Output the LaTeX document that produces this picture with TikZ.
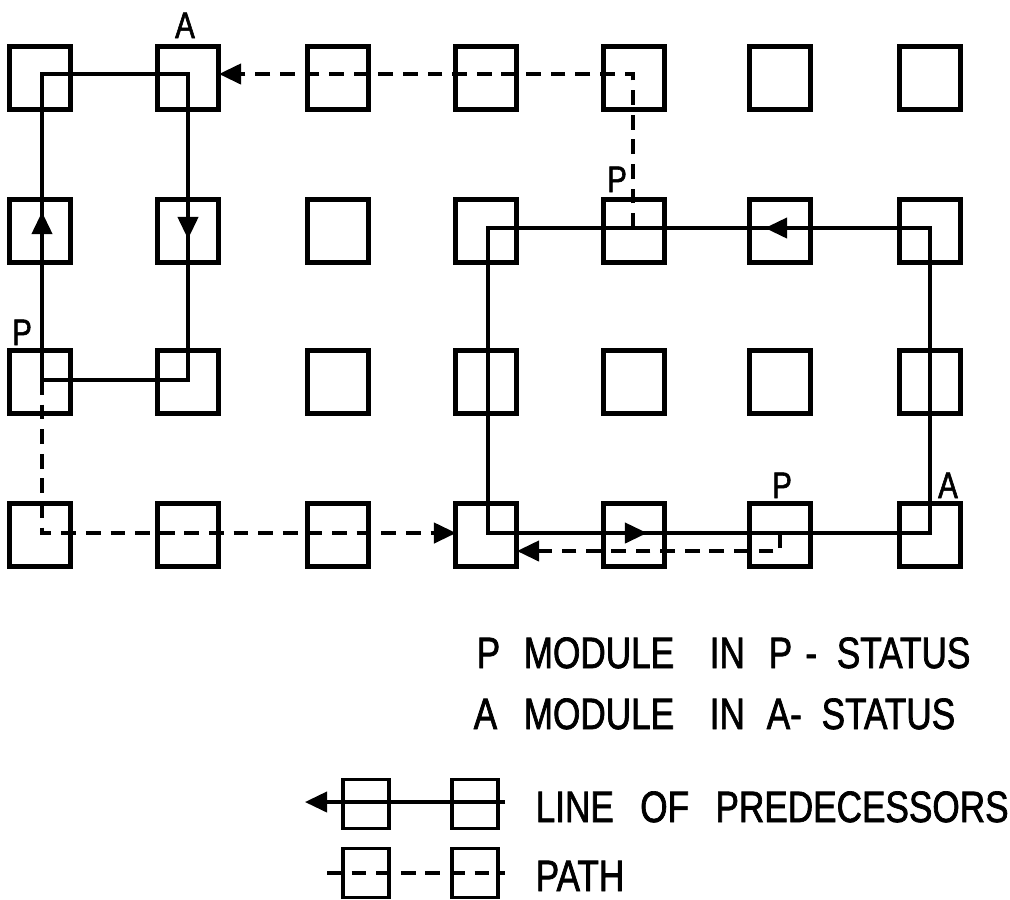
\documentclass[tikz,border=0pt]{standalone}
\usepackage{fontspec}
\newfontfamily\lettering[FakeStretch=0.8,FakeBold=1.6]{Liberation Sans}
\usetikzlibrary{arrows.meta}
\begin{document}
\begin{tikzpicture}[x=0.01cm,y=-0.01cm,
  module/.style={draw, line width=1.2pt, minimum width=0.61cm, minimum height=0.63cm, inner sep=0pt},
  smallmod/.style={draw, line width=1.1pt, minimum width=0.46cm, minimum height=0.49cm, inner sep=0pt},
  pred/.style={line width=0.9pt},
  pathline/.style={line width=0.95pt, dash pattern=on 4.2pt off 2.8pt},
  tip/.style={-{Triangle[length=6.3pt,width=5.8pt]}},
  lbl/.style={font=\lettering\fontsize{10.5}{12}\selectfont, inner sep=0pt, anchor=base},
  leg/.style={font=\lettering\fontsize{12.5}{15}\selectfont, inner sep=0pt, anchor=base west}]
\useasboundingbox (0,0) rectangle (1010,899);

% grid of modules
\foreach \c/\x in {1/40,2/188,3/338,4/486,5/634,6/780,7/930}
  \foreach \r/\y in {1/78,2/231,3/382,4/535}
    \node[module] (b\c\r) at (\x,\y) {};

% corner coordinates
\coordinate (p13) at (42,380);
\coordinate (p11) at (42,74);
\coordinate (p21) at (188,74);
\coordinate (p23) at (188,380);
\coordinate (q72) at (930,228);
\coordinate (q42) at (488,228);
\coordinate (q44) at (488,533);
\coordinate (q74) at (930,533);
\coordinate (q52) at (633,228);
\coordinate (q51) at (633,74);
\coordinate (p14) at (42,533);
\coordinate (q64) at (780,533);
\coordinate (q64b) at (780,551);
\coordinate (e21) at (219,74);
\coordinate (w44) at (456,533);
\coordinate (e44) at (517,551);

% lines of predecessors
\draw[pred] (p13) -- (p11) -- (p21) -- (p23) -- cycle;
\draw[pred] (q72) -- (q42) -- (q44) -- (q74) -- cycle;

% mid-line arrowheads
\coordinate (a1s) at (42,240);  \coordinate (a1e) at (42,212);
\coordinate (a2s) at (188,215); \coordinate (a2e) at (188,239);
\coordinate (a3s) at (790,228); \coordinate (a3e) at (765,228);
\coordinate (a4s) at (622,533); \coordinate (a4e) at (647,533);
\draw[pred,tip] (a1s) -- (a1e);
\draw[pred,tip] (a2s) -- (a2e);
\draw[pred,tip] (a3s) -- (a3e);
\draw[pred,tip] (a4s) -- (a4e);

% paths
\draw[pathline,tip] (q52) -- (q51) -- (e21);
\draw[pathline,tip] (p13) -- (p14) -- (w44);
\draw[pathline,tip] (q64) -- (q64b) -- (e44);

% status labels
\node[lbl] (la1) at (185,38) {A};
\node[lbl] (lp2) at (617,192) {P};
\node[lbl] (lp3) at (22,345) {P};
\node[lbl] (lp4) at (782,498) {P};
\node[lbl] (la4) at (948,498) {A};

% legend text
\node[leg] (t1a) at (476,668) {P};
\node[leg] (t1b) at (523,668) {MODULE};
\node[leg] (t1c) at (709,668) {IN};
\node[leg] (t1d) at (768,668) {P\hspace{0.3em}-\hspace{0.45em}STATUS};
\node[leg] (t2a) at (473,729) {A};
\node[leg] (t2b) at (523,729) {MODULE};
\node[leg] (t2c) at (709,729) {IN};
\node[leg] (t2d) at (766,729) {A-\hspace{0.45em}STATUS};

% legend symbols
\node[smallmod] (s1) at (366,804) {};
\node[smallmod] (s2) at (475,804) {};
\coordinate (s0) at (305,802);
\coordinate (s3) at (505,802);
\draw[pred,tip] (s3) -- (s0);
\node[smallmod] (s4) at (366,873) {};
\node[smallmod] (s5) at (475,873) {};
\coordinate (s6) at (327,873);
\coordinate (s7) at (505,873);
\draw[pathline] (s6) -- (s7);

\node[leg] (t3) at (535,822) {LINE\hspace{0.6em}OF\hspace{0.6em}PREDECESSORS};
\node[leg] (t4) at (535,891) {PATH};
\end{tikzpicture}
\end{document}
